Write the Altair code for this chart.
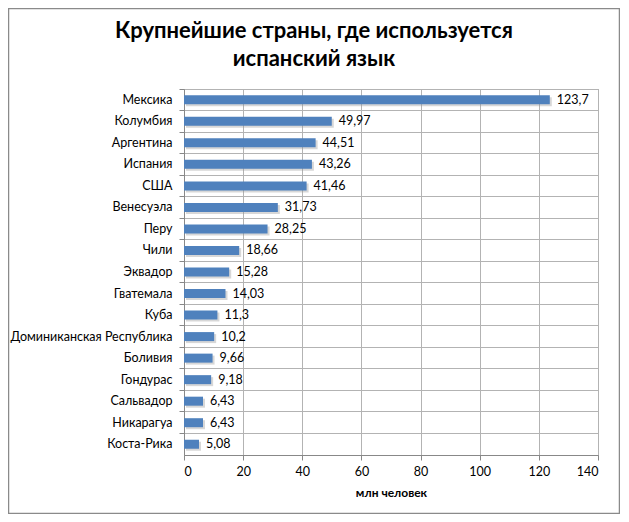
import altair as alt
import pandas as pd

countries = ["Мексика", "Колумбия", "Аргентина", "Испания", "США", "Венесуэла", "Перу",
             "Чили", "Эквадор", "Гватемала", "Куба", "Доминиканская Республика", "Боливия",
             "Гондурас", "Сальвадор", "Никарагуа", "Коста-Рика"]
values = [123.7, 49.97, 44.51, 43.26, 41.46, 31.73, 28.25, 18.66, 15.28, 14.03, 11.3,
          10.2, 9.66, 9.18, 6.43, 6.43, 5.08]
labels = [str(v).replace(".", ",") for v in values]
x_ticks = [0, 20, 40, 60, 80, 100, 120, 140]
title_lines = ["Крупнейшие страны, где используется", "испанский язык"]

df = pd.DataFrame({"country": countries, "value": values, "label": labels})

FONT = "Lato"
GRID = "#b3b3b3"

y_enc = alt.Y("country:N", sort=countries, title=None,
              scale=alt.Scale(paddingInner=0, paddingOuter=0),
              axis=alt.Axis(bandPosition=0, grid=True, gridColor=GRID, tickColor="#888888",
                            tickSize=5, domainColor="#888888", labelPadding=7,
                            labelFont=FONT, labelFontSize=12.5, labelColor="#000000"))
x_enc = alt.X("value:Q", title="млн человек",
              scale=alt.Scale(domain=[0, 140], nice=False),
              axis=alt.Axis(values=x_ticks, grid=True, gridColor=GRID, tickColor="#888888",
                            tickSize=5, domainColor="#888888", labelPadding=5,
                            labelFont=FONT, labelFontSize=12.5, labelColor="#000000",
                            titleFont=FONT, titleFontSize=12, titleFontWeight="bold",
                            titlePadding=10, titleColor="#000000"))

base = alt.Chart(df)

shadow = base.mark_bar(size=9, color="#9a9a9a", opacity=0.4, xOffset=2, yOffset=2).encode(
    y=y_enc, x=x_enc)
bars = base.mark_bar(size=9, color="#4f81bd").encode(y=y_enc, x=x_enc)
text = base.mark_text(align="left", dx=7, font=FONT, fontSize=12.5, color="#000000").encode(
    y=y_enc, x=x_enc, text="label:N")

one = pd.DataFrame({"a": [0]})
border = alt.Chart(one).mark_rect(
    fill=None, stroke="#8a8a8a", strokeWidth=1.5).encode(
    x=alt.value(-175.5), x2=alt.value(435.5), y=alt.value(-80.5), y2=alt.value(424.5))
title1 = alt.Chart(one).mark_text(
    align="center", baseline="alphabetic", font=FONT, fontSize=22, fontWeight="bold",
    color="#000000", text=title_lines[0]).encode(x=alt.value(130), y=alt.value(-51))
title2 = alt.Chart(one).mark_text(
    align="center", baseline="alphabetic", font=FONT, fontSize=22, fontWeight="bold",
    color="#000000", text=title_lines[1]).encode(x=alt.value(130), y=alt.value(-23))

chart = alt.layer(shadow, bars, text, border, title1, title2).properties(
    width=414, height=366,
    padding={"left": 176, "top": 81, "right": 22, "bottom": 59},
    autosize=alt.AutoSizeParams(type="none"),
).configure_view(stroke="#9a9a9a")

chart.save("out.html", embed_options={"renderer": "svg", "actions": False})
